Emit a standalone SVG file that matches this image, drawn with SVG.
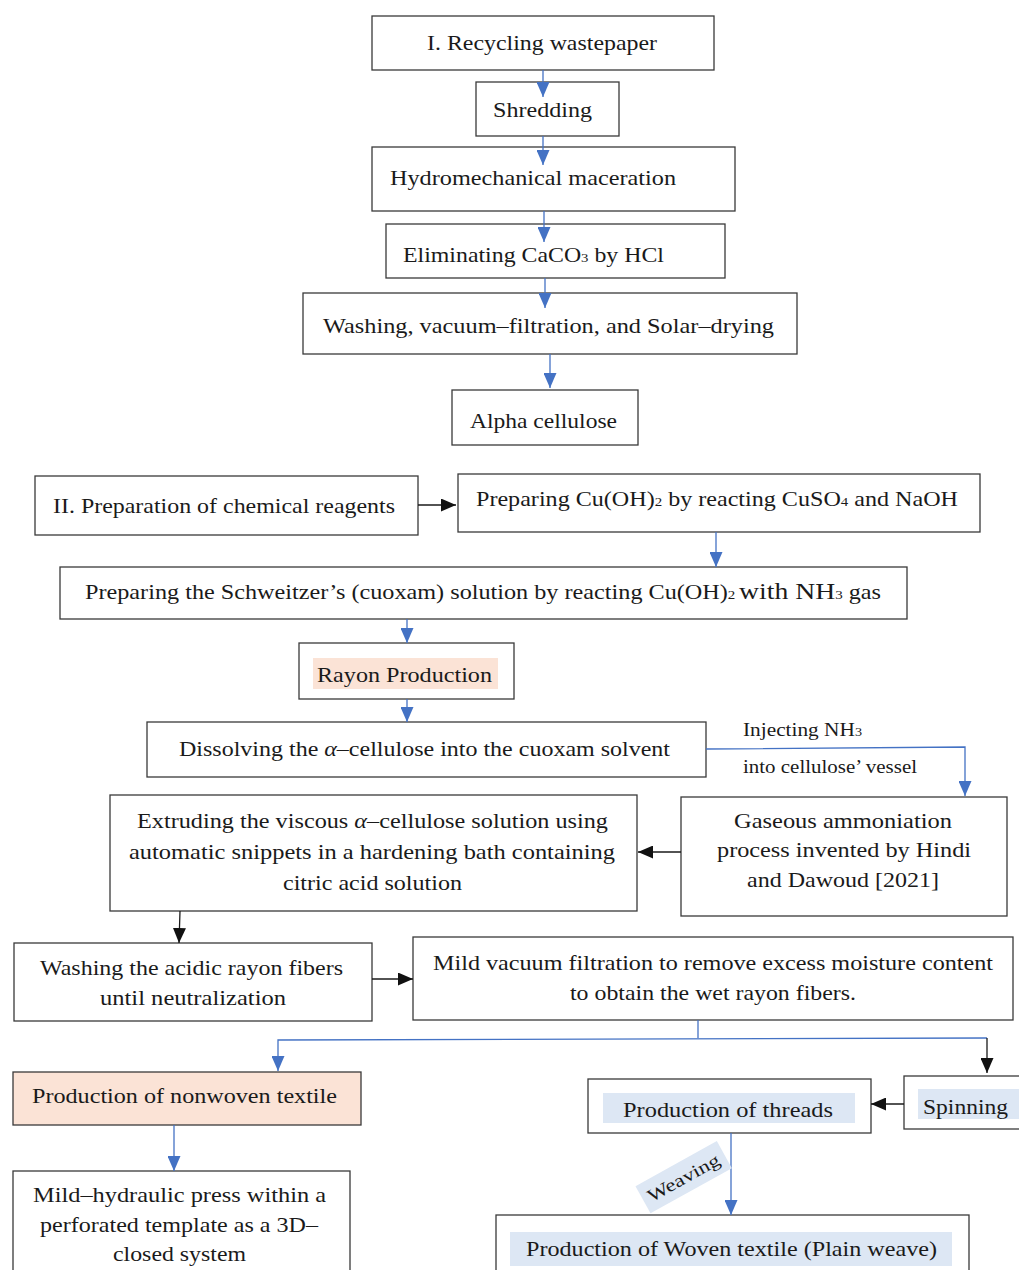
<svg xmlns="http://www.w3.org/2000/svg" width="1019" height="1270" viewBox="0 0 1019 1270">
<style>
.box{fill:#fff;stroke:#3a3a3a;stroke-width:1.3}
.peach{fill:#fbe3d6}
.lblue{fill:#dde7f4}
.t{font-family:"Liberation Serif","Times New Roman",serif;font-size:21px;fill:#1a1a1a}
.s{font-size:13px}
.small{font-family:"Liberation Serif","Times New Roman",serif;font-size:18px;fill:#1a1a1a}
.blue{stroke:#4472c4;stroke-width:1.3;fill:none}
.blk{stroke:#1a1a1a;stroke-width:1.3;fill:none}
</style>
<defs>
<marker id="ab" viewBox="0 0 15 13" refX="15" refY="6.5" markerWidth="15" markerHeight="13" markerUnits="userSpaceOnUse" orient="auto"><path d="M0,0 L15,6.5 L0,13 z" fill="#4472c4"/></marker>
<marker id="ak" viewBox="0 0 15 13" refX="15" refY="6.5" markerWidth="15" markerHeight="13" markerUnits="userSpaceOnUse" orient="auto"><path d="M0,0 L15,6.5 L0,13 z" fill="#111"/></marker>
</defs>
<rect width="1019" height="1270" fill="#fff"/>

<g id="n1"><rect class="box" x="372" y="16" width="342" height="54"/><text class="t" x="427" y="50" textLength="230" lengthAdjust="spacingAndGlyphs">I. Recycling wastepaper</text></g>
<g id="n2"><rect class="box" x="476" y="82" width="143" height="54"/><text class="t" x="493" y="117" textLength="99" lengthAdjust="spacingAndGlyphs">Shredding</text></g>
<g id="n3"><rect class="box" x="372" y="147" width="363" height="64"/><text class="t" x="390" y="185" textLength="286" lengthAdjust="spacingAndGlyphs">Hydromechanical maceration</text></g>
<g id="n4"><rect class="box" x="386" y="224" width="339" height="54"/><text class="t" x="403" y="262" textLength="261" lengthAdjust="spacingAndGlyphs">Eliminating CaCO<tspan class="s">3</tspan> by HCl</text></g>
<g id="n5"><rect class="box" x="303" y="293" width="494" height="61"/><text class="t" x="323" y="333" textLength="451" lengthAdjust="spacingAndGlyphs">Washing, vacuum–filtration, and Solar–drying</text></g>
<g id="n6"><rect class="box" x="452" y="390" width="186" height="55"/><text class="t" x="470" y="428" textLength="147" lengthAdjust="spacingAndGlyphs">Alpha cellulose</text></g>
<g id="n7"><rect class="box" x="35" y="476" width="383" height="59"/><text class="t" x="53" y="513" textLength="342" lengthAdjust="spacingAndGlyphs">II. Preparation of chemical reagents</text></g>
<g id="n8"><rect class="box" x="458" y="474" width="522" height="58"/><text class="t" x="476" y="506" textLength="482" lengthAdjust="spacingAndGlyphs">Preparing Cu(OH)<tspan class="s">2</tspan> by reacting CuSO<tspan class="s">4</tspan> and NaOH</text></g>
<g id="n9"><rect class="box" x="60" y="567" width="847" height="52"/><text class="t" x="85" y="599" textLength="796" lengthAdjust="spacingAndGlyphs">Preparing the Schweitzer’s (cuoxam) solution by reacting Cu(OH)<tspan class="s">2 </tspan><tspan font-size="24">with NH</tspan><tspan class="s">3</tspan> gas</text></g>
<g id="n10"><rect class="box" x="299" y="643" width="215" height="56"/><rect class="peach" x="313" y="658" width="185" height="31"/><text class="t" x="317" y="682" textLength="175" lengthAdjust="spacingAndGlyphs">Rayon Production</text></g>
<g id="n11"><rect class="box" x="147" y="722" width="559" height="55"/><text class="t" x="179" y="756" textLength="491" lengthAdjust="spacingAndGlyphs">Dissolving the <tspan font-style="italic">α</tspan>–cellulose into the cuoxam solvent</text></g>
<g id="n12"><rect class="box" x="110" y="795" width="527" height="116"/>
<text class="t" x="137" y="828" textLength="471" lengthAdjust="spacingAndGlyphs">Extruding the viscous <tspan font-style="italic">α</tspan>–cellulose solution using</text>
<text class="t" x="129" y="859" textLength="486" lengthAdjust="spacingAndGlyphs">automatic snippets in a hardening bath containing</text>
<text class="t" x="283" y="890" textLength="179" lengthAdjust="spacingAndGlyphs">citric acid solution</text></g>
<g id="n13"><rect class="box" x="681" y="797" width="326" height="119"/>
<text class="t" x="734" y="828" textLength="218" lengthAdjust="spacingAndGlyphs">Gaseous ammoniation</text>
<text class="t" x="717" y="857" textLength="254" lengthAdjust="spacingAndGlyphs">process invented by Hindi</text>
<text class="t" x="747" y="887" textLength="192" lengthAdjust="spacingAndGlyphs">and Dawoud [2021]</text></g>
<g id="n14"><rect class="box" x="14" y="943" width="358" height="78"/>
<text class="t" x="40" y="975" textLength="303" lengthAdjust="spacingAndGlyphs">Washing the acidic rayon fibers</text>
<text class="t" x="100" y="1005" textLength="186" lengthAdjust="spacingAndGlyphs">until neutralization</text></g>
<g id="n15"><rect class="box" x="413" y="937" width="600" height="83"/>
<text class="t" x="433" y="970" textLength="560" lengthAdjust="spacingAndGlyphs">Mild vacuum filtration to remove excess moisture content</text>
<text class="t" x="570" y="1000" textLength="286" lengthAdjust="spacingAndGlyphs">to obtain the wet rayon fibers.</text></g>
<g id="n16"><rect class="box" x="13" y="1072" width="348" height="53" style="fill:#fbe3d6"/><text class="t" x="32" y="1103" textLength="305" lengthAdjust="spacingAndGlyphs">Production of nonwoven textile</text></g>
<g id="n17"><rect class="box" x="904" y="1076" width="130" height="53"/><rect class="lblue" x="918" y="1089" width="110" height="30"/><text class="t" x="923" y="1114" textLength="85" lengthAdjust="spacingAndGlyphs">Spinning</text></g>
<g id="n18"><rect class="box" x="588" y="1079" width="283" height="54"/><rect class="lblue" x="603" y="1093" width="252" height="30"/><text class="t" x="623" y="1117" textLength="210" lengthAdjust="spacingAndGlyphs">Production of threads</text></g>
<g id="n19"><rect class="box" x="13" y="1171" width="337" height="120"/>
<text class="t" x="33" y="1202" textLength="293" lengthAdjust="spacingAndGlyphs">Mild–hydraulic press within a</text>
<text class="t" x="40" y="1232" textLength="278" lengthAdjust="spacingAndGlyphs">perforated template as a 3D–</text>
<text class="t" x="113" y="1261" textLength="133" lengthAdjust="spacingAndGlyphs">closed system</text></g>
<g id="n20"><rect class="box" x="496" y="1215" width="473" height="80"/><rect class="lblue" x="510" y="1232" width="442" height="34"/><text class="t" x="526" y="1256" textLength="411" lengthAdjust="spacingAndGlyphs">Production of Woven textile (Plain weave)</text></g>

<g id="connectors">
<line class="blue" x1="543" y1="70" x2="543" y2="97" marker-end="url(#ab)"/>
<line class="blue" x1="543" y1="136" x2="543" y2="165" marker-end="url(#ab)"/>
<line class="blue" x1="544" y1="211" x2="544" y2="242" marker-end="url(#ab)"/>
<line class="blue" x1="545" y1="278" x2="545" y2="308" marker-end="url(#ab)"/>
<line class="blue" x1="550" y1="354" x2="550" y2="388" marker-end="url(#ab)"/>
<line class="blk" x1="418" y1="505" x2="456" y2="505" marker-end="url(#ak)"/>
<line class="blue" x1="716" y1="532" x2="716" y2="567" marker-end="url(#ab)"/>
<line class="blue" x1="407" y1="619" x2="407" y2="643" marker-end="url(#ab)"/>
<line class="blue" x1="407" y1="699" x2="407" y2="722" marker-end="url(#ab)"/>
<polyline class="blue" points="706,749 965,747 965,796" marker-end="url(#ab)"/>
<line class="blk" x1="681" y1="852" x2="638" y2="852" marker-end="url(#ak)"/>
<line class="blk" x1="180" y1="911" x2="179" y2="943" marker-end="url(#ak)"/>
<line class="blk" x1="372" y1="979" x2="413" y2="979" marker-end="url(#ak)"/>
<line class="blue" x1="698" y1="1020" x2="698" y2="1038"/>
<polyline class="blue" points="987,1038 278,1040 278,1071" marker-end="url(#ab)"/>
<line class="blk" x1="987" y1="1038" x2="987" y2="1073" marker-end="url(#ak)"/>
<line class="blk" x1="904" y1="1104" x2="871" y2="1104" marker-end="url(#ak)"/>
<line class="blue" x1="174" y1="1125" x2="174" y2="1171" marker-end="url(#ab)"/>
<line class="blue" x1="731" y1="1133" x2="731" y2="1215" marker-end="url(#ab)"/>
<text class="small" x="743" y="736" textLength="119" lengthAdjust="spacingAndGlyphs">Injecting NH<tspan font-size="12">3</tspan></text>
<text class="small" x="743" y="773" textLength="174" lengthAdjust="spacingAndGlyphs">into cellulose’ vessel</text>
<g transform="rotate(-29 683 1177)"><rect class="lblue" x="637" y="1162" width="93" height="31"/><text class="small" x="683" y="1184" text-anchor="middle" font-size="19" textLength="80" lengthAdjust="spacingAndGlyphs">Weaving</text></g>
</g>
</svg>
